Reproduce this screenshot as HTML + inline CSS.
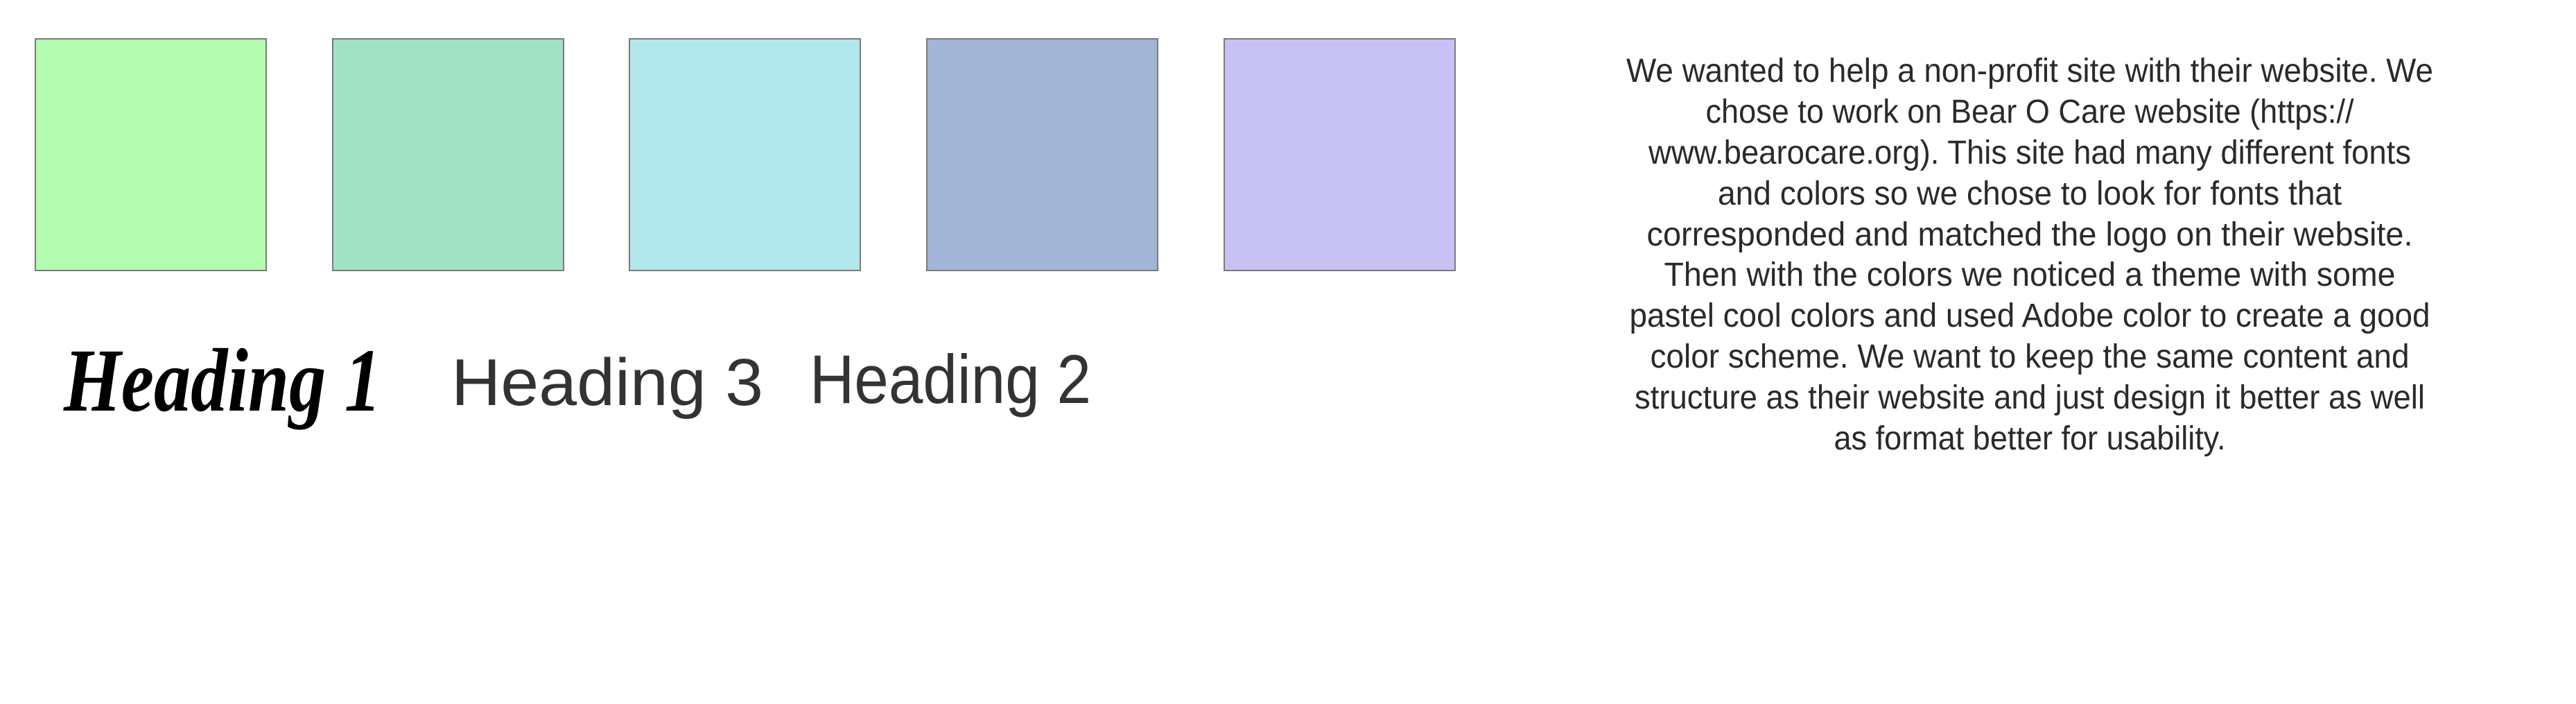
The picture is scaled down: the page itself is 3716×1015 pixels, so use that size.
<!DOCTYPE html>
<html><head><meta charset="utf-8"><style>
html,body{margin:0;padding:0;background:#fff;width:3716px;height:1015px;overflow:hidden}
svg{display:block}
.p{font-family:"Liberation Sans",sans-serif;font-size:48px;fill:#2a2a2a;font-weight:300}
</style></head><body>
<svg width="3716" height="1015" viewBox="0 0 3716 1015">
<rect x="0" y="0" width="3716" height="1015" fill="#fff"/>
<g stroke="#7a7a7a" stroke-width="2">
<rect x="51" y="56" width="333" height="334" fill="#b3fbae"/>
<rect x="480" y="56" width="333" height="334" fill="#a3e1c5"/>
<rect x="908" y="56" width="333" height="334" fill="#b2e7ec"/>
<rect x="1337" y="56" width="333" height="334" fill="#a3b5d6"/>
<rect x="1766" y="56" width="333" height="334" fill="#c8c2f4"/>
</g>
<text x="92" y="592" font-family="Liberation Serif,serif" font-style="italic" font-weight="bold" font-size="130" textLength="458" lengthAdjust="spacingAndGlyphs" fill="#000">Heading 1</text>
<text x="651" y="584" font-family="Liberation Sans,sans-serif" font-size="96" textLength="450" lengthAdjust="spacingAndGlyphs" fill="#333">Heading 3</text>
<text x="1168" y="581" font-family="Liberation Sans,sans-serif" font-size="99" textLength="406" lengthAdjust="spacingAndGlyphs" fill="#333">Heading 2</text>
<g class="p" text-anchor="middle">
<text x="2928" y="118" textLength="1164" lengthAdjust="spacingAndGlyphs">We wanted to help a non-profit site with their website. We</text>
<text x="2928" y="177" textLength="935" lengthAdjust="spacingAndGlyphs">chose to work on Bear O Care website (https://</text>
<text x="2928" y="236" textLength="1100" lengthAdjust="spacingAndGlyphs">www.bearocare.org). This site had many different fonts</text>
<text x="2928" y="295" textLength="900" lengthAdjust="spacingAndGlyphs">and colors so we chose to look for fonts that</text>
<text x="2928" y="354" textLength="1105" lengthAdjust="spacingAndGlyphs">corresponded and matched the logo on their website.</text>
<text x="2928" y="412" textLength="1055" lengthAdjust="spacingAndGlyphs">Then with the colors we noticed a theme with some</text>
<text x="2928" y="471" textLength="1155" lengthAdjust="spacingAndGlyphs">pastel cool colors and used Adobe color to create a good</text>
<text x="2928" y="530" textLength="1095" lengthAdjust="spacingAndGlyphs">color scheme. We want to keep the same content and</text>
<text x="2928" y="589" textLength="1140" lengthAdjust="spacingAndGlyphs">structure as their website and just design it better as well</text>
<text x="2928" y="648" textLength="565" lengthAdjust="spacingAndGlyphs">as format better for usability.</text>
</g>
</svg>
</body></html>
